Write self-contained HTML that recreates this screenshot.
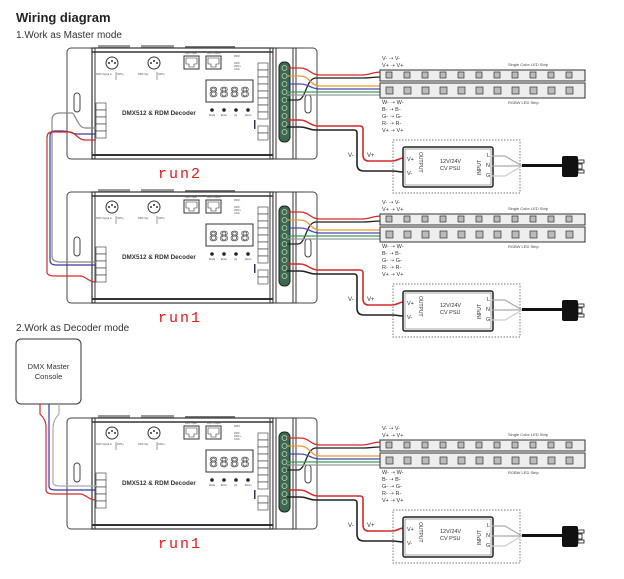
<!DOCTYPE html>
<html><head><meta charset="utf-8"><style>
html,body{margin:0;padding:0;background:#fff;}
svg{display:block;font-family:"Liberation Sans",sans-serif;}
</style></head><body>
<svg width="624" height="579" viewBox="0 0 624 579" xmlns="http://www.w3.org/2000/svg">
<defs>
<g id="unit">
  <rect x="98" y="45" width="32" height="4" fill="#999"/>
  <rect x="141" y="45" width="33" height="4" fill="#999"/>
  <rect x="185" y="46" width="50" height="3" fill="#777"/>
  <rect x="67" y="48" width="30" height="111" rx="4" fill="#fff" stroke="#444" stroke-width="1"/>
  <rect x="74" y="93" width="6" height="19" rx="3" fill="#fff" stroke="#444"/>
  <rect x="290" y="48" width="27" height="111" rx="4" fill="#fff" stroke="#444"/>
  <rect x="305" y="95" width="6" height="18" rx="3" fill="#fff" stroke="#444"/>
  <rect x="92" y="48" width="181" height="111" fill="#fff" stroke="#333" stroke-width="1.2"/>
  <line x1="92" y1="52" x2="273" y2="52" stroke="#333" stroke-width="1.5"/>
  <line x1="92" y1="155" x2="273" y2="155" stroke="#333" stroke-width="2"/>
  <line x1="95" y1="48" x2="95" y2="159" stroke="#333"/>
  <line x1="270" y1="48" x2="270" y2="159" stroke="#333"/>
  <rect x="273" y="48" width="23" height="111" fill="#fff" stroke="#333"/>
  <line x1="276" y1="48" x2="276" y2="159" stroke="#333"/>
  <line x1="293" y1="48" x2="293" y2="159" stroke="#333"/>
  <rect x="279" y="62" width="11" height="80" rx="5" fill="#3b6b4d" stroke="#222"/>
  <g fill="none" stroke="#ccc" stroke-width="0.8">
    <circle cx="284.5" cy="68" r="2.5"/><circle cx="284.5" cy="76" r="2.5"/><circle cx="284.5" cy="84" r="2.5"/>
    <circle cx="284.5" cy="92" r="2.5"/><circle cx="284.5" cy="100" r="2.5"/><circle cx="284.5" cy="108" r="2.5"/>
    <circle cx="284.5" cy="116" r="2.5"/><circle cx="284.5" cy="124" r="2.5"/><circle cx="284.5" cy="132" r="2.5"/>
  </g>
  <circle cx="112" cy="63" r="6" fill="#fff" stroke="#333"/>
  <circle cx="112" cy="61" r="1" fill="#333"/><circle cx="109" cy="63" r="1" fill="#333"/><circle cx="115" cy="63" r="1" fill="#333"/>
  <circle cx="154" cy="63" r="6" fill="#fff" stroke="#333"/>
  <circle cx="154" cy="61" r="1" fill="#333"/><circle cx="151" cy="63" r="1" fill="#333"/><circle cx="157" cy="63" r="1" fill="#333"/>
  <g font-size="2.5" fill="#555"><text x="96" y="75">DMX Signal In</text><text x="117" y="75">DMX+</text><text x="138" y="75">DMX Sig</text><text x="158" y="75">DMX+</text></g>
  <line x1="116" y1="72" x2="116" y2="80" stroke="#555" stroke-width="0.6"/>
  <line x1="157" y1="72" x2="157" y2="80" stroke="#555" stroke-width="0.6"/>
  <rect x="184" y="56" width="15" height="13" fill="#fff" stroke="#333"/>
  <rect x="206" y="56" width="15" height="13" fill="#fff" stroke="#333"/>
  <path d="M186 58h11v6h-3v3h-5v-3h-3z" fill="none" stroke="#333" stroke-width="0.6"/>
  <path d="M208 58h11v6h-3v3h-5v-3h-3z" fill="none" stroke="#333" stroke-width="0.6"/>
  <g font-size="2.5" fill="#555"><text x="185" y="54">DMX Input</text><text x="207" y="54">DMX Output</text>
  <text x="234" y="57">RDM</text><text x="234" y="64">DMX-</text><text x="234" y="67">DMX+</text><text x="234" y="70">GND</text></g>
  <rect x="206" y="80" width="47" height="22" fill="#fff" stroke="#333"/>
  <text x="209" y="97" font-size="15" fill="#fff" stroke="#333" stroke-width="0.6" letter-spacing="1.5" font-family="Liberation Mono,monospace">8888</text>
  <circle cx="212" cy="110" r="1.8" fill="#222"/><circle cx="224" cy="110" r="1.8" fill="#222"/>
  <circle cx="236" cy="110" r="1.8" fill="#222"/><circle cx="248" cy="110" r="1.8" fill="#222"/>
  <g font-size="2.5" fill="#444"><text x="209" y="116">Mode</text><text x="221" y="116">Enter</text><text x="234" y="116">Up</text><text x="245" y="116">Down</text></g>
  <text x="122" y="115" font-size="6.3" font-weight="bold" fill="#333">DMX512 &amp; RDM Decoder</text>
  <g fill="#fff" stroke="#333" stroke-width="0.6">
    <rect x="258" y="63" width="10" height="7"/><rect x="258" y="70" width="10" height="7"/><rect x="258" y="77" width="10" height="7"/>
    <rect x="258" y="84" width="10" height="7"/><rect x="258" y="91" width="10" height="7"/><rect x="258" y="98" width="10" height="7"/>
    <rect x="258" y="105" width="10" height="7"/><rect x="258" y="112" width="10" height="7"/><rect x="258" y="126" width="10" height="7"/><rect x="258" y="133" width="10" height="7"/>
  </g>
  <rect x="254" y="120" width="1.5" height="9" fill="#335"/>
  <g fill="#fff" stroke="#333" stroke-width="0.6">
    <rect x="96" y="103" width="10" height="7"/><rect x="96" y="110" width="10" height="7"/><rect x="96" y="117" width="10" height="7"/>
    <rect x="96" y="124" width="10" height="7"/><rect x="96" y="131" width="10" height="7"/>
  </g>
  <g fill="none" stroke-width="1.3">
    <path d="M287 68 H300 C310 68 310 75 320 75 H362 C370 75 372 72 382 72" stroke="#d42a2a"/>
    <path d="M287 100 H298 C306 100 306 78 316 78 H362 C370 78 372 77 382 77" stroke="#222"/>
    <path d="M287 76 H300 C310 76 310 86 320 86 H382" stroke="#e89a3a"/>
    <path d="M287 84 H300 C310 84 310 89 320 89 H382" stroke="#4b4bb0"/>
    <path d="M287 92 H300 C310 92 310 92 320 92 H382" stroke="#3a9a5a"/>
    <path d="M287 95 H298 C306 95 306 95 316 95 H382" stroke="#999"/>
    <path d="M287 120 H300 C308 120 310 126 318 126 H360 Q363 126 363 129 V155 Q363 161 369 161 H392 C398 161 398 158 404 158" stroke="#d42a2a" stroke-width="1.6"/>
    <path d="M287 127 H300 C308 127 308 130 316 130 H354 Q357 130 357 133 V164 Q357 171 364 171 H392 C398 171 398 172 404 172" stroke="#222" stroke-width="1.6"/>
  </g>
  <g font-size="5.5" fill="#333">
    <text x="382" y="60">V-  ➝  V-</text><text x="382" y="67">V+ ➝ V+</text>
    <text x="382" y="104">W-  ➝  W-</text><text x="382" y="111">B-  ➝  B-</text><text x="382" y="118">G-  ➝  G-</text>
    <text x="382" y="125">R-  ➝  R-</text><text x="382" y="132">V+ ➝ V+</text>
  </g>
  <text x="508" y="66" font-size="4" fill="#444">Single Color LED Strip</text>
  <text x="508" y="104" font-size="4" fill="#444">RGBW LED Strip</text>
  <rect x="380" y="70" width="205" height="11" fill="#eee" stroke="#333"/>
  <rect x="380" y="83" width="205" height="15" fill="#eee" stroke="#333"/>
  <g fill="#bbb" stroke="#333" stroke-width="0.7">
    <rect x="386" y="72" width="6" height="6"/><rect x="404" y="72" width="6" height="6"/><rect x="422" y="72" width="6" height="6"/><rect x="440" y="72" width="6" height="6"/><rect x="458" y="72" width="6" height="6"/><rect x="476" y="72" width="6" height="6"/><rect x="494" y="72" width="6" height="6"/><rect x="512" y="72" width="6" height="6"/><rect x="530" y="72" width="6" height="6"/><rect x="548" y="72" width="6" height="6"/><rect x="566" y="72" width="6" height="6"/>
    <rect x="386" y="87" width="7" height="7"/><rect x="404" y="87" width="7" height="7"/><rect x="422" y="87" width="7" height="7"/><rect x="440" y="87" width="7" height="7"/><rect x="458" y="87" width="7" height="7"/><rect x="476" y="87" width="7" height="7"/><rect x="494" y="87" width="7" height="7"/><rect x="512" y="87" width="7" height="7"/><rect x="530" y="87" width="7" height="7"/><rect x="548" y="87" width="7" height="7"/><rect x="566" y="87" width="7" height="7"/>
  </g>
  <text x="348" y="157" font-size="6" fill="#333">V-</text><text x="367" y="157" font-size="6" fill="#333">V+</text>
  <rect x="393" y="140" width="127" height="53" fill="none" stroke="#777" stroke-dasharray="1.5,1.5"/>
  <rect x="403" y="147" width="90" height="40" rx="2" fill="#fff" stroke="#222" stroke-width="1.5"/>
  <rect x="405" y="149" width="86" height="36" fill="none" stroke="#555" stroke-width="0.5"/>
  <g font-size="5.5" fill="#333">
    <text x="407" y="161">V+</text><text x="407" y="175">V-</text>
    <text x="440" y="163" font-size="5.5">12V/24V</text><text x="440" y="170" font-size="5.5">CV PSU</text>
    <text x="487" y="157">L</text><text x="486" y="167">N</text><text x="486" y="177">G</text>
    <text transform="translate(419,152) rotate(90)" font-size="5">OUTPUT</text>
    <text transform="translate(481,175) rotate(-90)" font-size="5">INPUT</text>
  </g>
  <g fill="none" stroke-width="1.2">
    <path d="M492 156 H505 L522 166" stroke="#aaa"/><path d="M492 166 H522" stroke="#aaa"/><path d="M492 176 H505 L522 166" stroke="#ccc"/>
  </g>
  <rect x="522" y="164" width="40" height="3" fill="#111"/>
  <rect x="562" y="156" width="16" height="21" rx="2" fill="#111"/>
  <rect x="578" y="160" width="6" height="3" fill="#fff" stroke="#111" stroke-width="0.8"/>
  <rect x="578" y="170" width="6" height="3" fill="#fff" stroke="#111" stroke-width="0.8"/>
  <rect x="578" y="164" width="4" height="5" fill="#fff" stroke="#111" stroke-width="0.8"/>
</g>
</defs>

<text x="16" y="22" font-size="13" font-weight="bold" fill="#222">Wiring diagram</text>
<text x="16" y="38" font-size="10" fill="#333">1.Work as Master mode</text>

<use href="#unit"/>
<use href="#unit" transform="translate(0,144)"/>
<use href="#unit" transform="translate(0,370)"/>

<g font-size="15" fill="#e0191b" font-family="Liberation Mono,monospace" letter-spacing="2">
  <text x="158" y="178">run2</text>
  <text x="158" y="322">run1</text>
  <text x="158" y="548">run1</text>
</g>

<g fill="none" stroke-width="1.2">
  <path d="M96 128 H85 C78 128 75 113 72 113 H60 Q52 113 52 120 V256 Q52 262 60 262 H96" stroke="#888"/>
  <path d="M96 134 H78 C72 134 70 131 62 131 H55 Q50 131 50 136 V260 Q50 265 56 265 H96" stroke="#3a3aa0"/>
  <path d="M96 140 H85 C78 140 75 132 70 132 H52 Q47 132 47 138 V272 Q47 276 55 276 H80 C86 276 88 282 96 282" stroke="#d42a2a"/>
</g>

<text x="16" y="331" font-size="10" fill="#333">2.Work as Decoder mode</text>
<rect x="16" y="339" width="65" height="65" rx="5" fill="#fff" stroke="#333"/>
<text x="48.5" y="369" font-size="7.5" text-anchor="middle" fill="#333">DMX Master</text>
<text x="48.5" y="379" font-size="7.5" text-anchor="middle" fill="#333">Console</text>
<g fill="none" stroke-width="1.2">
  <path d="M59 404 V414 Q53 420 53 428 V482 Q53 486 60 486 H96" stroke="#aaa"/>
  <path d="M49 404 V486 Q49 490 55 490 H96" stroke="#3a3aa0"/>
  <path d="M40 404 V414 Q46 420 46 426 V490 Q46 494 54 494 H80 C86 494 88 500 96 500" stroke="#d42a2a"/>
</g>
</svg>
</body></html>
